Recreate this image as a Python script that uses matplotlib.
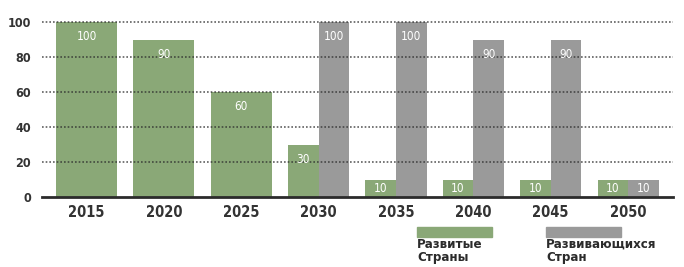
import matplotlib
matplotlib.use("Agg")
import matplotlib.pyplot as plt
from matplotlib.patches import Rectangle

years = ["2015", "2020", "2025", "2030", "2035", "2040", "2045", "2050"]
developed = [100, 90, 60, 30, 10, 10, 10, 10]
developing = [0, 0, 0, 100, 100, 90, 90, 10]
yticks = [0, 20, 40, 60, 80, 100]
legend_labels = ["Развитые\nСтраны", "Развивающихся\nСтран"]

GREEN = "#8aa877"
GRAY = "#9a9a9a"
DARK = "#2b2b2b"

plt.rcParams["font.family"] = ["Liberation Sans Narrow", "DejaVu Sans"]
plt.rcParams["font.stretch"] = "condensed"

fig = plt.figure(figsize=(6.84, 2.67), dpi=100)
ax = fig.add_axes([42 / 684, 70 / 267, 631 / 684, 175 / 267])

full_w = 0.79
half_w = full_w / 2


def label(x, v):
    # white value label, ~15px below the bar top (or centred on short bars)
    off = min(10.8, v * 1.75 / 2 / 1.39)
    ax.annotate(str(v), (x, v), xytext=(0, -off), textcoords="offset points",
                ha="center", va="center", color="white", fontsize=8.5)


for i, (g, d) in enumerate(zip(developed, developing)):
    if g and d:
        ax.bar(i - half_w / 2, g, half_w, color=GREEN, zorder=1)
        ax.bar(i + half_w / 2, d, half_w, color=GRAY, zorder=1)
        label(i - half_w / 2, g)
        label(i + half_w / 2, d)
    elif g:
        ax.bar(i, g, full_w, color=GREEN, zorder=1)
        label(i, g)
    elif d:
        ax.bar(i, d, full_w, color=GRAY, zorder=1)
        label(i, d)

for y in yticks[1:]:
    ax.axhline(y, color=DARK, lw=1.2, ls=(0, (1, 1.2)), alpha=0.75,
               zorder=2, clip_on=False)
ax.axhline(0, color=DARK, lw=2, zorder=3, clip_on=False)

ax.set_xlim(-0.575, 7.58)
ax.set_ylim(0, 100)
ax.set_yticks(yticks)
ax.set_yticklabels([str(t) for t in yticks], color="#333333", fontsize=9,
                   fontweight="bold")
ax.set_xticks(range(len(years)))
ax.set_xticklabels(years, color="#333333", fontsize=10.5, fontweight="bold")
ax.tick_params(length=0, axis="y", pad=8)
ax.tick_params(length=0, axis="x", pad=6)
for s in ax.spines.values():
    s.set_visible(False)

# legend below the axis
for x0, col, text in [(417, GREEN, legend_labels[0]), (546, GRAY, legend_labels[1])]:
    fig.patches.append(Rectangle((x0 / 684, (267 - 237) / 267), 75 / 684, 10 / 267,
                                 transform=fig.transFigure, color=col))
    fig.text(x0 / 684, (267 - 238) / 267, text, ha="left", va="top",
             fontsize=9.5, fontweight="bold", color=DARK, linespacing=1.0)

fig.savefig("out.png", dpi=100)
